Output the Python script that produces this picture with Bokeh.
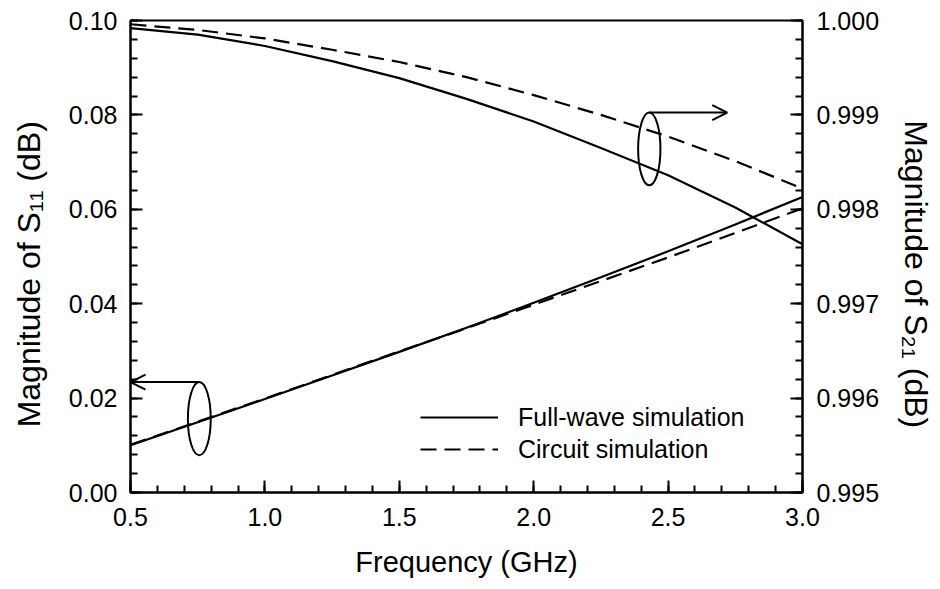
from bokeh.plotting import figure
from bokeh.models import (Range1d, LinearAxis, FixedTicker, PrintfTickFormatter,
                          Arrow, OpenHead, Legend, LegendItem)
from bokeh.embed import file_html
from bokeh.resources import INLINE

# Frequency sweep (GHz)
freq = [0.50, 0.75, 1.00, 1.25, 1.50, 1.75, 2.00, 2.25, 2.50, 2.75, 3.00]

# |S11| (left axis)
s11_fullwave = [0.0100, 0.0149, 0.0198, 0.0248, 0.0298, 0.0349, 0.0402, 0.0456, 0.0511, 0.0568, 0.0626]
s11_circuit = [0.0101, 0.0150, 0.0199, 0.0249, 0.0299, 0.0348, 0.0398, 0.0448, 0.0498, 0.0550, 0.0602]

# |S21| (right axis)
s21_fullwave = [0.99992, 0.99985, 0.99973, 0.99957, 0.99939, 0.99917, 0.99893, 0.99865, 0.99836, 0.99802, 0.99763]
s21_circuit = [0.99996, 0.99990, 0.99981, 0.99969, 0.99956, 0.99940, 0.99921, 0.99900, 0.99877, 0.99851, 0.99822]

# Tick positions
x_major = [0.5, 1.0, 1.5, 2.0, 2.5, 3.0]
x_minor = [round(0.5 + 0.1 * i, 2) for i in range(26)]
s11_major = [0.00, 0.02, 0.04, 0.06, 0.08, 0.10]
s11_minor = [round(0.004 * i, 4) for i in range(26)]
s21_major = [0.995, 0.996, 0.997, 0.998, 0.999, 1.000]
s21_minor = [round(0.995 + 0.0002 * i, 5) for i in range(26)]

# Curve-group markers: ellipse around each pair, arrow pointing to its axis
s11_marker = dict(x=0.756, y=0.01565, w=0.085, h=0.0155, arrow_to=0.5)
s21_marker = dict(x=2.430, y=0.99864, w=0.083, h=0.00077, arrow_to=2.72)

FONT = "Liberation Sans"
DASH = "16 8"
LW = 2.2
NBSP = "\u00a0"

p = figure(width=940, height=589, output_backend="svg", toolbar_location=None,
           x_range=Range1d(0.5, 3.0), y_range=Range1d(0.0, 0.1),
           min_border_left=130, min_border_right=138,
           min_border_top=20, min_border_bottom=97)
p.xgrid.visible = False
p.ygrid.visible = False
p.outline_line_color = "black"
p.outline_line_width = 2
p.background_fill_color = "white"
p.border_fill_color = "white"

p.extra_y_ranges = {"s21": Range1d(0.995, 1.0)}
right_axis = LinearAxis(y_range_name="s21")
p.add_layout(right_axis, "right")


def style_axis(ax, major, minor, fmt, tick_standoff, label, label_size, label_standoff):
    ax.ticker = FixedTicker(ticks=major, minor_ticks=minor)
    ax.formatter = PrintfTickFormatter(format=fmt)
    ax.axis_line_width = 2
    ax.axis_line_color = "black"
    ax.major_tick_in = 12
    ax.major_tick_out = 0
    ax.minor_tick_in = 7
    ax.minor_tick_out = 0
    ax.major_tick_line_width = 2
    ax.minor_tick_line_width = 2
    ax.major_tick_line_color = "black"
    ax.minor_tick_line_color = "black"
    ax.major_label_text_font = FONT
    ax.major_label_text_font_size = "25px"
    ax.major_label_text_color = "black"
    ax.major_label_standoff = tick_standoff
    ax.axis_label = label
    ax.axis_label_text_font = FONT
    ax.axis_label_text_font_size = label_size
    ax.axis_label_text_font_style = "normal"
    ax.axis_label_text_color = "black"
    ax.axis_label_standoff = label_standoff


style_axis(p.xaxis[0], x_major, x_minor, "%.1f", 15,
           "Frequency (GHz)", "29px", 17)
# non-breaking padding nudges the vertical titles slightly below the frame centre
style_axis(p.yaxis[0], s11_major, s11_minor, "%.2f", 13,
           "Magnitude of S\u2081\u2081 (dB)" + NBSP * 4, "32px", 19)
style_axis(right_axis, s21_major, s21_minor, "%.3f", 14,
           NBSP * 4 + "Magnitude of S\u2082\u2081 (dB)", "32px", 16)

# Curves
r_fw = p.line(freq, s11_fullwave, line_color="black", line_width=LW)
r_cs = p.line(freq, s11_circuit, line_color="black", line_width=LW, line_dash=DASH)
p.line(freq, s21_fullwave, line_color="black", line_width=LW, y_range_name="s21")
p.line(freq, s21_circuit, line_color="black", line_width=LW, line_dash=DASH, y_range_name="s21")

# Group markers
p.ellipse(x=[s11_marker["x"]], y=[s11_marker["y"]], width=s11_marker["w"], height=s11_marker["h"],
          fill_color=None, line_color="black", line_width=2)
p.ellipse(x=[s21_marker["x"]], y=[s21_marker["y"]], width=s21_marker["w"], height=s21_marker["h"],
          fill_color=None, line_color="black", line_width=2, y_range_name="s21")

top11 = s11_marker["y"] + s11_marker["h"] / 2
p.add_layout(Arrow(end=OpenHead(size=15, line_width=2, line_color="black"),
                   x_start=s11_marker["x"], y_start=top11,
                   x_end=s11_marker["arrow_to"], y_end=top11,
                   line_width=2, line_color="black"))
top21 = s21_marker["y"] + s21_marker["h"] / 2
p.add_layout(Arrow(end=OpenHead(size=15, line_width=2, line_color="black"),
                   x_start=s21_marker["x"], y_start=top21,
                   x_end=s21_marker["arrow_to"], y_end=top21,
                   line_width=2, line_color="black", y_range_name="s21"))

legend = Legend(items=[LegendItem(label="Full-wave simulation", renderers=[r_fw]),
                       LegendItem(label="Circuit simulation", renderers=[r_cs])],
                location=(290, 27), orientation="vertical",
                background_fill_alpha=0, border_line_alpha=0,
                glyph_width=78, glyph_height=32, label_height=32,
                label_standoff=20, spacing=0, padding=0, margin=0,
                label_text_font=FONT, label_text_font_size="25px",
                label_text_color="black", label_text_baseline="middle")
p.add_layout(legend)

open("out.html", "w").write(file_html(p, INLINE))
